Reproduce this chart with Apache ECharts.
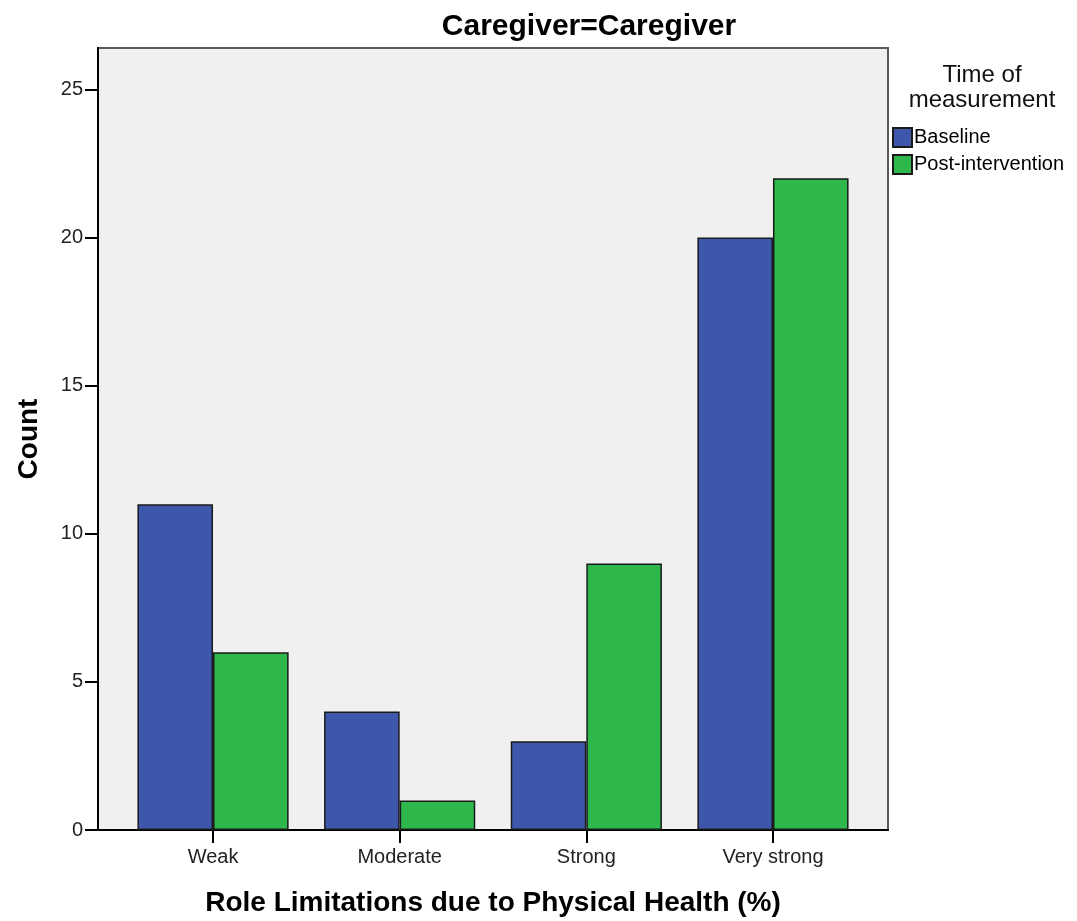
<!DOCTYPE html>
<html>
<head>
<meta charset="utf-8">
<script src="https://cdn.jsdelivr.net/npm/echarts@6/dist/echarts.min.js"></script>
<style>
  html, body { margin: 0; padding: 0; background: #fff; }
  #chart { width: 1077px; height: 921px; }
</style>
</head>
<body>
<div id="chart"></div>
<script>
// Role limitations counts by time of measurement
const categories = ['Weak', 'Moderate', 'Strong', 'Very strong'];
const baseline = [11, 4, 3, 20];
const postIntervention = [6, 1, 9, 22];
const seriesNames = ['Baseline', 'Post-intervention'];
const yTicks = [0, 5, 10, 15, 20, 25];
const legendTitle = ['Time of', 'measurement'];

const FONT = '"Liberation Sans", Arial, sans-serif';
const Y_MAX = 26.4;
const chart = echarts.init(document.getElementById('chart'), null, { renderer: 'canvas' });

const legendTitleText = (txt, y) => ({
  type: 'text',
  x: 982,
  y: y,
  silent: true,
  style: {
    text: txt,
    fontFamily: FONT,
    fontSize: 24,
    fill: '#111',
    align: 'center',
    verticalAlign: 'middle',
    textAlign: 'center',
    textVerticalAlign: 'middle'
  }
});

chart.setOption({
  backgroundColor: '#ffffff',
  animation: false,
  textStyle: { fontFamily: FONT },
  title: {
    text: 'Caregiver=Caregiver',
    left: 584,
    top: 7,
    textAlign: 'center',
    textStyle: { fontFamily: FONT, fontSize: 30, fontWeight: 'bold', color: '#000' }
  },
  graphic: [legendTitleText(legendTitle[0], 75), legendTitleText(legendTitle[1], 100)],
  legend: {
    orient: 'vertical',
    left: 892,
    top: 127,
    padding: 0,
    itemWidth: 19,
    itemHeight: 19,
    itemGap: 6,
    icon: 'rect',
    data: seriesNames,
    textStyle: { fontFamily: FONT, fontSize: 20, color: '#000', padding: [0, 0, 0, -3] }
  },
  grid: [
    // frame of the plotting area
    {
      left: 98, top: 48, width: 790, height: 782,
      containLabel: false,
      outerBoundsMode: 'none',
      show: true,
      backgroundColor: '#f0f0f0',
      borderColor: '#5a5a5a',
      borderWidth: 2
    },
    // band area holding the bars
    {
      left: 119.7, top: 48, width: 746.6, height: 782,
      containLabel: false,
      outerBoundsMode: 'none'
    }
  ],
  xAxis: [
    {
      gridIndex: 0,
      type: 'value',
      min: 0,
      max: 1,
      axisLine: { show: true, onZero: false, lineStyle: { color: '#000', width: 2 } },
      axisTick: { show: false },
      axisLabel: { show: false },
      splitLine: { show: false },
      name: 'Role Limitations due to Physical Health (%)',
      nameLocation: 'middle',
      nameGap: 59,
      nameTextStyle: { fontFamily: FONT, fontSize: 28, fontWeight: 'bold', color: '#000' }
    },
    {
      gridIndex: 1,
      type: 'category',
      data: categories,
      axisLine: { show: false },
      axisTick: { show: true, alignWithLabel: true, length: 13, lineStyle: { color: '#000', width: 2 } },
      axisLabel: { fontFamily: FONT, fontSize: 20, color: '#222', margin: 17 }
    }
  ],
  yAxis: [
    {
      gridIndex: 0,
      type: 'value',
      min: 0,
      max: Y_MAX,
      interval: 5,
      name: 'Count',
      nameLocation: 'middle',
      nameGap: 55,
      nameTextStyle: { fontFamily: FONT, fontSize: 28, fontWeight: 'bold', color: '#000' },
      splitLine: { show: false },
      axisLine: { show: true, lineStyle: { color: '#000', width: 2 } },
      axisTick: { show: true, length: 13, customValues: yTicks, lineStyle: { color: '#000', width: 2 } },
      axisLabel: { fontFamily: FONT, fontSize: 20, color: '#222', margin: 15, customValues: yTicks }
    },
    {
      gridIndex: 1,
      type: 'value',
      min: 0,
      max: Y_MAX,
      show: false,
      splitLine: { show: false }
    }
  ],
  series: [
    {
      name: seriesNames[0],
      type: 'bar',
      xAxisIndex: 1,
      yAxisIndex: 1,
      data: baseline,
      barGap: '0%',
      barCategoryGap: '19%',
      itemStyle: { color: '#3d58aa', borderColor: '#1a1a1a', borderWidth: 1.5 }
    },
    {
      name: seriesNames[1],
      type: 'bar',
      xAxisIndex: 1,
      yAxisIndex: 1,
      data: postIntervention,
      barGap: '0%',
      barCategoryGap: '19%',
      itemStyle: { color: '#2eb84b', borderColor: '#1a1a1a', borderWidth: 1.5 }
    }
  ]
});
</script>
</body>
</html>
